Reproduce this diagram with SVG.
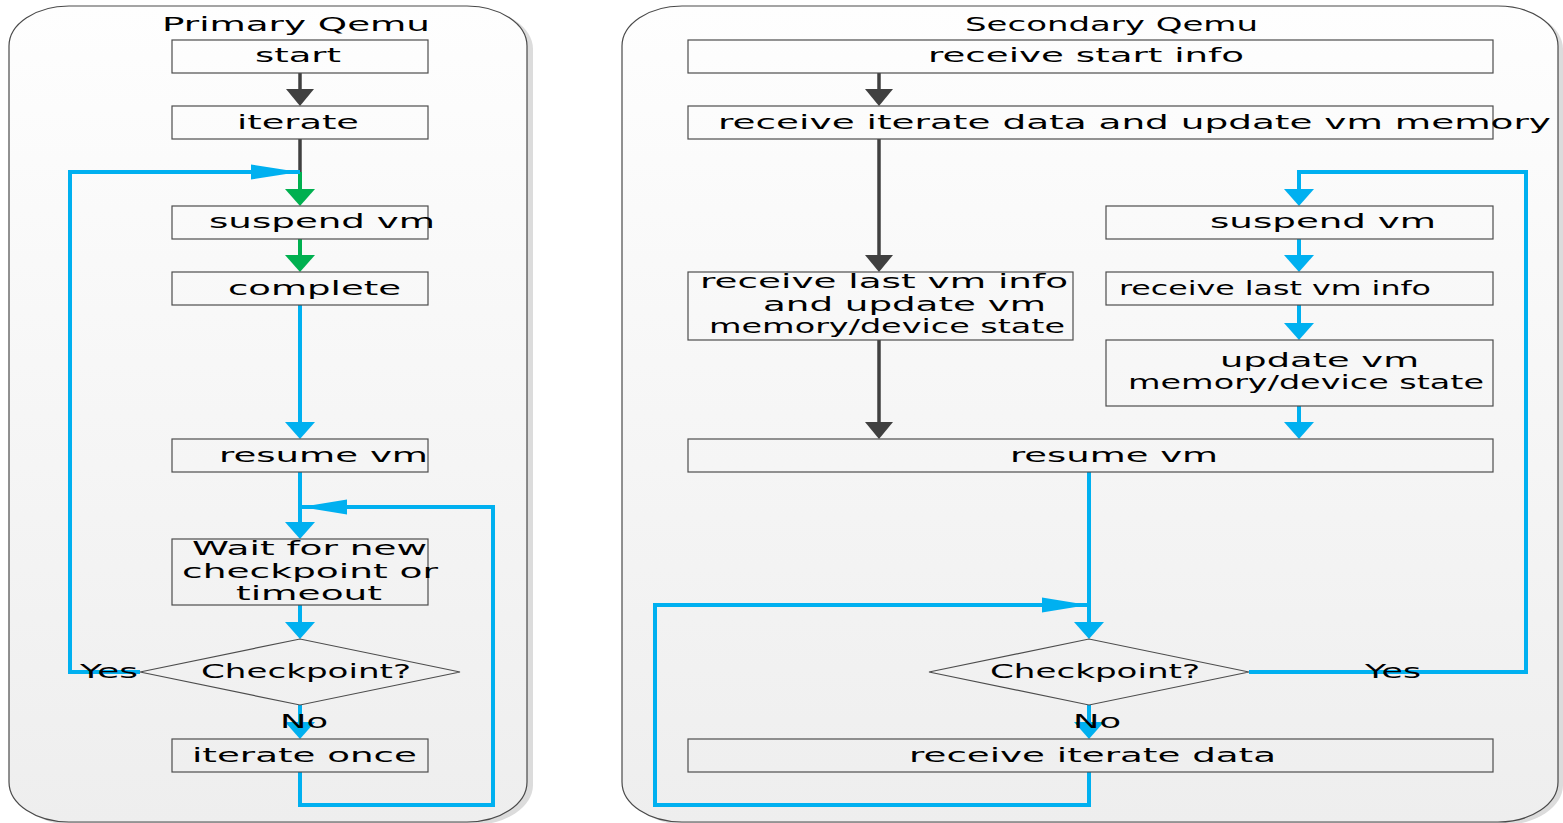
<svg xmlns="http://www.w3.org/2000/svg" width="1563" height="823" viewBox="0 0 1563 823">
<style>
.cont{stroke:#4a4a4a;stroke-width:1.2}
.shadow{fill:#dcdcdc;stroke:none}
.box{fill:none;stroke:#4d4d4d;stroke-width:1.2}
.t{font-family:"DejaVu Sans","Liberation Sans",sans-serif;font-size:20px;fill:#000}
.blue{fill:none;stroke:#00b0f0;stroke-width:4;stroke-linejoin:miter}
.dark{fill:none;stroke:#404040;stroke-width:3.5}
.green{fill:none;stroke:#00b050;stroke-width:4}
.ab{fill:#00b0f0}
</style>
<defs>
<linearGradient id="bg" x1="0" y1="0" x2="0" y2="1">
<stop offset="0" stop-color="#fefefe"/>
<stop offset="1" stop-color="#eeeeee"/>
</linearGradient>
<marker id="mb" viewBox="0 -15 17 30" markerWidth="17" markerHeight="30" refX="0" refY="0" orient="auto" markerUnits="userSpaceOnUse"><path d="M0,-15L17,0L0,15z" fill="#00b0f0"/></marker>
<marker id="mg" viewBox="0 -15 17 30" markerWidth="17" markerHeight="30" refX="0" refY="0" orient="auto" markerUnits="userSpaceOnUse"><path d="M0,-15L17,0L0,15z" fill="#00b050"/></marker>
<marker id="md" viewBox="0 -14 17 28" markerWidth="17" markerHeight="28" refX="0" refY="0" orient="auto" markerUnits="userSpaceOnUse"><path d="M0,-14L17,0L0,14z" fill="#404040"/></marker>
</defs>

<g id="primary-container">
<rect class="shadow" x="14" y="9" width="519" height="816" rx="60" ry="40"/>
<rect class="cont" x="9" y="6" width="518" height="816" rx="60" ry="40" fill="url(#bg)"/>
<text class="t" x="162" y="31" textLength="268" lengthAdjust="spacingAndGlyphs">Primary Qemu</text>
</g>
<g id="secondary-container">
<rect class="shadow" x="627" y="9" width="936" height="816" rx="60" ry="40"/>
<rect class="cont" x="622" y="6" width="936" height="816" rx="60" ry="40" fill="url(#bg)"/>
<text class="t" x="965" y="31" textLength="293" lengthAdjust="spacingAndGlyphs">Secondary Qemu</text>
</g>

<g id="connectors">
<path class="dark" d="M300,73V89" marker-end="url(#md)"/>
<path class="dark" d="M300,139V172"/>
<path class="green" d="M300,172V189" marker-end="url(#mg)"/>
<path class="green" d="M300,239V255" marker-end="url(#mg)"/>
<path class="blue" d="M300,305V422" marker-end="url(#mb)"/>
<path class="blue" d="M300,472V522" marker-end="url(#mb)"/>
<path class="blue" d="M300,605V622" marker-end="url(#mb)"/>
<path class="blue" d="M300,705V722" marker-end="url(#mb)"/>
<path class="blue" d="M140,672H70V172H300"/>
<polygon class="ab" points="299,172 251,164.5 251,179.5"/>
<path class="blue" d="M300,772V805H493V507H300"/>
<polygon class="ab" points="301,507 347,499.5 347,514.5"/>

<path class="dark" d="M879,73V89" marker-end="url(#md)"/>
<path class="dark" d="M879,139V255" marker-end="url(#md)"/>
<path class="dark" d="M879,340V422" marker-end="url(#md)"/>
<path class="blue" d="M1249,672H1526V172H1299V189" marker-end="url(#mb)"/>
<path class="blue" d="M1299,239V255" marker-end="url(#mb)"/>
<path class="blue" d="M1299,305V323" marker-end="url(#mb)"/>
<path class="blue" d="M1299,406V422" marker-end="url(#mb)"/>
<path class="blue" d="M1089,472V622" marker-end="url(#mb)"/>
<path class="blue" d="M1089,705V722" marker-end="url(#mb)"/>
<path class="blue" d="M1089,772V805H655V605H1089"/>
<polygon class="ab" points="1088,605 1042,597.5 1042,612.5"/>
</g>

<g id="p-start"><rect class="box" x="172" y="40" width="256" height="33"/><text class="t" x="255" y="62" textLength="86" lengthAdjust="spacingAndGlyphs">start</text></g>
<g id="p-iterate"><rect class="box" x="172" y="106" width="256" height="33"/><text class="t" x="237" y="129" textLength="122" lengthAdjust="spacingAndGlyphs">iterate</text></g>
<g id="p-suspend"><rect class="box" x="172" y="206" width="256" height="33"/><text class="t" x="209" y="228" textLength="226" lengthAdjust="spacingAndGlyphs">suspend vm</text></g>
<g id="p-complete"><rect class="box" x="172" y="272" width="256" height="33"/><text class="t" x="228" y="295" textLength="173" lengthAdjust="spacingAndGlyphs">complete</text></g>
<g id="p-resume"><rect class="box" x="172" y="439" width="256" height="33"/><text class="t" x="219" y="462" textLength="209" lengthAdjust="spacingAndGlyphs">resume vm</text></g>
<g id="p-wait"><rect class="box" x="172" y="539" width="256" height="66"/>
<text class="t" x="192" y="555" textLength="235" lengthAdjust="spacingAndGlyphs">Wait for new</text>
<text class="t" x="182" y="578" textLength="256" lengthAdjust="spacingAndGlyphs">checkpoint or</text>
<text class="t" x="236" y="600" textLength="146" lengthAdjust="spacingAndGlyphs">timeout</text></g>
<g id="p-checkpoint"><polygon class="box" points="140,672 300,639 460,672 300,705"/>
<text class="t" x="201" y="678" textLength="210" lengthAdjust="spacingAndGlyphs">Checkpoint?</text>
<text class="t" x="80" y="678" textLength="58" lengthAdjust="spacingAndGlyphs">Yes</text>
<text class="t" x="280" y="728" textLength="48" lengthAdjust="spacingAndGlyphs">No</text></g>
<g id="p-iterate-once"><rect class="box" x="172" y="739" width="256" height="33"/><text class="t" x="192" y="762" textLength="225" lengthAdjust="spacingAndGlyphs">iterate once</text></g>

<g id="s-start"><rect class="box" x="688" y="40" width="805" height="33"/><text class="t" x="928" y="62" textLength="316" lengthAdjust="spacingAndGlyphs">receive start info</text></g>
<g id="s-iterate"><rect class="box" x="688" y="106" width="805" height="33"/><text class="t" x="718" y="129" textLength="833" lengthAdjust="spacingAndGlyphs">receive iterate data and update vm memory</text></g>
<g id="s-last-left"><rect class="box" x="688" y="272" width="385" height="68"/>
<text class="t" x="700" y="288" textLength="368" lengthAdjust="spacingAndGlyphs">receive last vm info</text>
<text class="t" x="763" y="311" textLength="283" lengthAdjust="spacingAndGlyphs">and update vm</text>
<text class="t" x="709" y="333" textLength="356" lengthAdjust="spacingAndGlyphs">memory/device state</text></g>
<g id="s-suspend"><rect class="box" x="1106" y="206" width="387" height="33"/><text class="t" x="1210" y="228" textLength="226" lengthAdjust="spacingAndGlyphs">suspend vm</text></g>
<g id="s-last-right"><rect class="box" x="1106" y="272" width="387" height="33"/><text class="t" x="1119" y="295" textLength="312" lengthAdjust="spacingAndGlyphs">receive last vm info</text></g>
<g id="s-update"><rect class="box" x="1106" y="340" width="387" height="66"/>
<text class="t" x="1220" y="367" textLength="199" lengthAdjust="spacingAndGlyphs">update vm</text>
<text class="t" x="1128" y="389" textLength="356" lengthAdjust="spacingAndGlyphs">memory/device state</text></g>
<g id="s-resume"><rect class="box" x="688" y="439" width="805" height="33"/><text class="t" x="1010" y="462" textLength="208" lengthAdjust="spacingAndGlyphs">resume vm</text></g>
<g id="s-checkpoint"><polygon class="box" points="929,672 1089,639 1249,672 1089,705"/>
<text class="t" x="990" y="678" textLength="210" lengthAdjust="spacingAndGlyphs">Checkpoint?</text>
<text class="t" x="1365" y="678" textLength="56" lengthAdjust="spacingAndGlyphs">Yes</text>
<text class="t" x="1073" y="728" textLength="48" lengthAdjust="spacingAndGlyphs">No</text></g>
<g id="s-receive-iterate"><rect class="box" x="688" y="739" width="805" height="33"/><text class="t" x="909" y="762" textLength="367" lengthAdjust="spacingAndGlyphs">receive iterate data</text></g>
</svg>
